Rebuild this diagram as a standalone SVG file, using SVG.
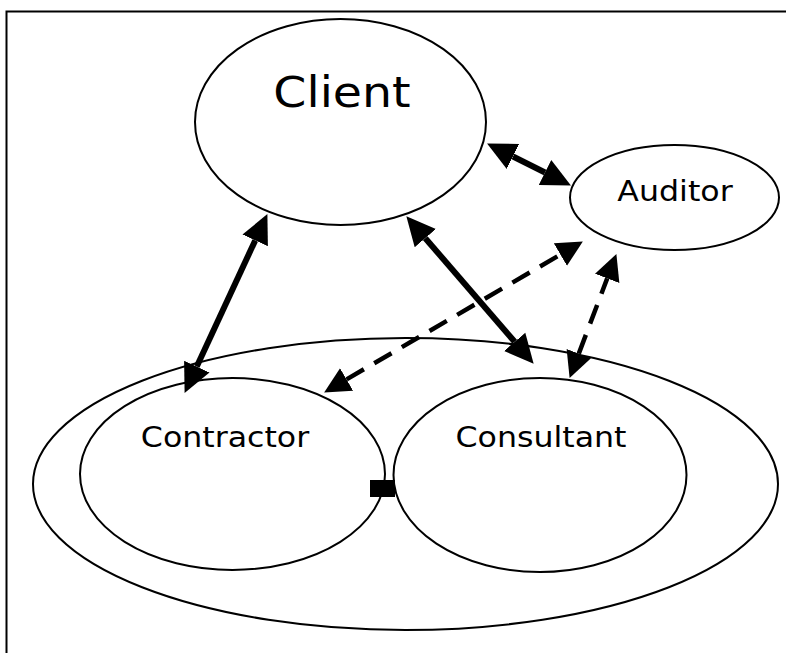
<svg xmlns="http://www.w3.org/2000/svg" width="786" height="653" viewBox="0 0 786 653">
<style>
.node{fill:#fff;stroke:#000;stroke-width:2}
.lbl{font-family:"DejaVu Sans","Verdana",sans-serif;fill:#000;text-anchor:middle}
.solid{stroke:#000;stroke-width:6;fill:none}
.dash{stroke:#000;stroke-width:4.5;fill:none;stroke-dasharray:20 12}
</style>
<defs>
<marker id="hs" markerUnits="userSpaceOnUse" markerWidth="32" markerHeight="32" viewBox="0 -16 32 32" refX="0" refY="0" orient="auto-start-reverse">
<path d="M0,-14 L29,0 L0,14 Z" fill="#000"/>
</marker>
<marker id="hd" markerUnits="userSpaceOnUse" markerWidth="30" markerHeight="30" viewBox="0 -15 30 30" refX="0" refY="0" orient="auto-start-reverse">
<path d="M0,-13 L26,0 L0,13 Z" fill="#000"/>
</marker>
</defs>
<rect width="786" height="653" fill="#fff"/>
<path d="M6.5,653 V11.5 H786" fill="none" stroke="#000" stroke-width="2"/>
<g id="team">
<ellipse class="node" cx="405.5" cy="484" rx="372.5" ry="146"/>
</g>
<g id="client">
<ellipse class="node" cx="340.5" cy="122" rx="145.5" ry="103"/>
<text class="lbl" font-size="42" transform="translate(342,107) scale(1.13,1)">Client</text>
</g>
<g id="auditor">
<ellipse class="node" cx="674.5" cy="197.5" rx="104.5" ry="52.5"/>
<text class="lbl" font-size="28" transform="translate(675,201) scale(1.13,1)">Auditor</text>
</g>
<g id="contractor">
<ellipse class="node" cx="232.5" cy="474" rx="152.5" ry="96"/>
<text class="lbl" font-size="28" transform="translate(225,447) scale(1.13,1)">Contractor</text>
</g>
<g id="consultant">
<ellipse class="node" cx="540" cy="475" rx="146.5" ry="97"/>
<text class="lbl" font-size="28" transform="translate(541,447) scale(1.13,1)">Consultant</text>
</g>
<g id="connectors">
<rect x="370" y="480" width="25" height="17" fill="#000"/>
<line class="solid" x1="196.8" y1="366.6" x2="255.2" y2="240.4" marker-start="url(#hs)" marker-end="url(#hs)"/>
<line class="solid" x1="425.3" y1="238.2" x2="514.7" y2="341.8" marker-start="url(#hs)" marker-end="url(#hs)"/>
<line class="solid" x1="513" y1="156.5" x2="545" y2="172.5" marker-start="url(#hs)" marker-end="url(#hs)"/>
<line class="dash" x1="346.6" y1="379.4" x2="560.4" y2="254.6" marker-start="url(#hd)" marker-end="url(#hd)"/>
<line class="dash" x1="578.8" y1="353.6" x2="607.2" y2="278.4" marker-start="url(#hd)" marker-end="url(#hd)"/>
</g>
</svg>
